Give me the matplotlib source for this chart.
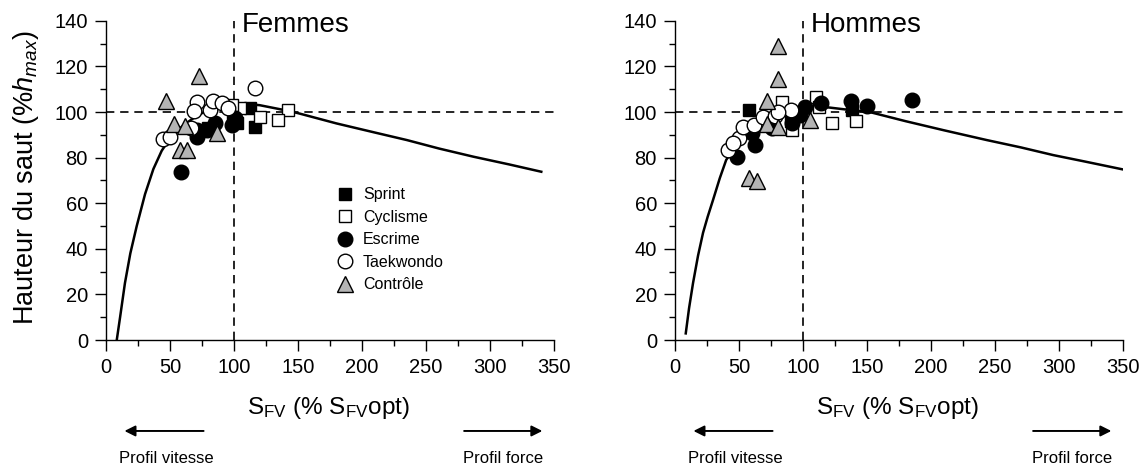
import matplotlib

matplotlib.use("Agg")
import matplotlib.pyplot as plt

plt.rcParams["font.family"] = ["Liberation Sans", "DejaVu Sans"]
plt.rcParams["mathtext.fontset"] = "custom"
plt.rcParams["mathtext.rm"] = "Liberation Sans"
plt.rcParams["mathtext.it"] = "Liberation Sans:italic"

# model curves
femmes_curve_x = [8.4, 11, 14.8, 19, 24, 30.5, 37, 43.5, 50, 60, 70, 80, 90, 100, 110, 120,
                  138, 150, 180, 210, 235, 260, 287, 315, 340]
femmes_curve_y = [0, 10, 25, 38, 50, 64, 75, 83, 88.5, 94, 98, 101, 102.5, 103.3, 103.5, 103,
                  101, 99.5, 95, 91, 87.7, 84, 80.4, 77, 73.8]
hommes_curve_x = [8.4, 11, 14.1, 18, 21.9, 25.5, 29.7, 35, 40, 50, 60, 70, 80, 90, 100, 110,
                  120, 135, 152, 180, 210, 243.5, 270, 295.5, 320, 350]
hommes_curve_y = [2.9, 14, 25, 37, 47, 54, 61.4, 71, 79, 87, 92.5, 96.5, 99.5, 101.3, 102.2,
                  102.4, 102, 101, 100, 96, 92, 87.7, 84.5, 81.1, 78.3, 74.8]

groups = ["Sprint", "Cyclisme", "Escrime", "Taekwondo", "Contrôle"]

# Femmes
f_sprint_x = [112.5, 116.4, 102, 99.5, 80]
f_sprint_y = [101.6, 93.5, 95, 95.7, 93]
f_cycl_x = [142.4, 120.3, 134.6, 104.7, 98.2]
f_cycl_y = [101.1, 97.9, 96.5, 101.6, 103]
f_escr_x = [58.3, 71.3, 78.6, 98.2, 100.8, 70.8, 85.2]
f_escr_y = [73.8, 89.1, 92, 94.3, 97.2, 92, 95]
f_taek_x = [116.4, 44.8, 50, 70.8, 69, 81.3, 83.3, 90.4, 95.6, 66]
f_taek_y = [110.6, 88, 89.1, 104.5, 100.4, 101.1, 104.9, 103.8, 101.6, 93]
f_ctrl_x = [72.7, 46.6, 53.1, 62, 87, 57.8, 63.5]
f_ctrl_y = [115.7, 104.8, 94.7, 94, 91, 83.3, 83.3]

# Hommes
h_sprint_x = [58, 138, 91]
h_sprint_y = [100.8, 100.8, 96]
h_cycl_x = [83.3, 110.2, 112.8, 122.4, 141.2, 91.1]
h_cycl_y = [104.5, 106.7, 102, 95, 96.1, 92]
h_escr_x = [184.9, 137.3, 149.7, 113.8, 101.6, 91.1, 75.5, 62.5, 48.7, 59.9, 97.7]
h_escr_y = [105.2, 104.8, 102.6, 104, 102.3, 95, 92.8, 85.5, 80.1, 90.6, 98.6]
h_taek_x = [41.7, 50.3, 53.4, 62, 69, 78.1, 90.4, 80.7, 45.6]
h_taek_y = [83.3, 88.4, 93.5, 94.3, 97.6, 98.2, 101.1, 100, 86.2]
h_ctrl_x = [80.7, 80.7, 72.1, 72.1, 80.7, 105.5, 58, 63.8]
h_ctrl_y = [128.9, 114.7, 104.8, 94.7, 93.5, 96.4, 71.2, 69.8]

styles = {
    "Sprint": dict(marker="s", mfc="black", ms=9),
    "Cyclisme": dict(marker="s", mfc="white", ms=9),
    "Escrime": dict(marker="o", mfc="black", ms=10.5),
    "Taekwondo": dict(marker="o", mfc="white", ms=10.5),
    "Contrôle": dict(marker="^", mfc="#b4b4b4", ms=11),
}

panels = [
    ("Femmes", 0.0925, femmes_curve_x, femmes_curve_y,
     [(f_sprint_x, f_sprint_y), (f_cycl_x, f_cycl_y), (f_escr_x, f_escr_y),
      (f_taek_x, f_taek_y), (f_ctrl_x, f_ctrl_y)]),
    ("Hommes", 0.589, hommes_curve_x, hommes_curve_y,
     [(h_sprint_x, h_sprint_y), (h_cycl_x, h_cycl_y), (h_escr_x, h_escr_y),
      (h_taek_x, h_taek_y), (h_ctrl_x, h_ctrl_y)]),
]

fig = plt.figure(figsize=(11.46, 4.68), dpi=100)

for i, (title, left, cx, cy, pts) in enumerate(panels):
    ax = fig.add_axes([left, 0.2735, 0.391, 0.682])
    ax.plot(cx, cy, color="black", lw=1.8, zorder=2)
    ax.axhline(100, color="black", lw=1.2, ls=(0, (5, 3.5)), zorder=1)
    ax.axvline(100, color="black", lw=1.2, ls=(0, (5, 3.5)), zorder=1)
    for name, (px, py) in zip(groups, pts):
        ax.plot(px, py, ls="none", mec="black", mew=1.0, label=name, zorder=3,
                **styles[name])

    ax.set_xlim(0, 350)
    ax.set_ylim(0, 140)
    ax.set_xticks(range(0, 351, 50))
    ax.set_xticks(range(0, 351, 25), minor=True)
    ax.set_yticks(range(0, 141, 20))
    ax.set_yticks(range(0, 141, 10), minor=True)
    ax.tick_params(which="major", direction="out", length=8, width=1.0,
                   labelsize=14.5, pad=5)
    ax.tick_params(which="minor", direction="out", length=4, width=1.0)
    for side in ("top", "right"):
        ax.spines[side].set_visible(False)
    for side in ("left", "bottom"):
        ax.spines[side].set_linewidth(1.0)

    ax.text(106, 138, title, fontsize=20, ha="left", va="center")

    ax.set_xlabel(r"S$_{\mathrm{FV}}$ (% S$_{\mathrm{FV}}$opt)", fontsize=17.5)
    ax.xaxis.set_label_coords(0.497, -0.172)

    arrow = dict(arrowstyle="-|>", color="black", lw=1.4, mutation_scale=16)
    ax.annotate("", xy=(0.035, -0.285), xytext=(0.224, -0.285),
                xycoords="axes fraction", textcoords="axes fraction",
                arrowprops=arrow, annotation_clip=False)
    ax.annotate("", xy=(0.98, -0.285), xytext=(0.793, -0.285),
                xycoords="axes fraction", textcoords="axes fraction",
                arrowprops=arrow, annotation_clip=False)
    ax.text(0.135, -0.37, "Profil vitesse", transform=ax.transAxes,
            fontsize=12, ha="center", va="center")
    ax.text(0.886, -0.37, "Profil force", transform=ax.transAxes,
            fontsize=12, ha="center", va="center")

    if i == 0:
        ax.set_ylabel(r"Hauteur du saut (%$h_{max}$)", fontsize=19.5)
        ax.yaxis.set_label_coords(-0.145, 0.51)
        ax.legend(loc="upper left", bbox_to_anchor=(0.516, 0.478), frameon=False,
                  fontsize=11.5, handlelength=1.0, handletextpad=0.6,
                  borderpad=0, borderaxespad=0, labelspacing=0.47, numpoints=1)

fig.savefig("out.png", dpi=100)
